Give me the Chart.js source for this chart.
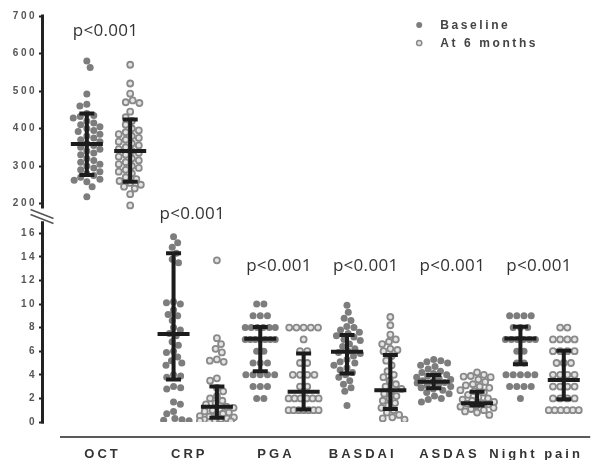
<!DOCTYPE html>
<html>
<head>
<meta charset="utf-8">
<title>Disease activity at baseline and at 6 months</title>
<style>
  html, body { margin: 0; padding: 0; background: #fff; }
  #wrap { width: 604px; height: 460px; }
</style>
</head>
<body>
<div id="wrap"><canvas id="dotChart" width="604" height="460"></canvas></div>
<script src="https://cdn.jsdelivr.net/npm/chart.js@4.4.1/dist/chart.umd.min.js"></script>
<script>
// categories along the x axis
const categories = ["OCT", "CRP", "PGA", "BASDAI", "ASDAS", "Night pain"];
const pLabels = ["p<0.001", "p<0.001", "p<0.001", "p<0.001", "p<0.001", "p<0.001"];
const pLabelLevel = [662, 17.7, 13.3, 13.3, 13.3, 13.3]; // OCT uses the top axis

// tick labels of the two axis pieces
const octTicks = [200, 300, 400, 500, 600, 700];
const scoreTicks = [0, 2, 4, 6, 8, 10, 12, 14, 16];

// individual values
const octBaseline = [580, 563, 492, 465, 460, 440, 435, 432, 428, 420, 415, 410, 405, 400, 395, 392, 385, 380, 375, 370, 365, 360, 355, 350, 345, 340, 335, 330, 320, 315, 310, 305, 300, 295, 290, 285, 280, 275, 270, 265, 262, 258, 245, 218];
const oct6m = [570, 520, 493, 475, 470, 468, 445, 430, 420, 410, 400, 395, 390, 385, 380, 375, 370, 365, 360, 355, 350, 345, 340, 335, 330, 325, 320, 315, 310, 305, 300, 295, 290, 285, 280, 270, 265, 260, 255, 250, 245, 240, 225, 195];
const crpBaseline = [15.7, 15.2, 14.8, 14.3, 13.8, 13.5, 10.2, 10.0, 10.1, 9.5, 9.1, 9.0, 8.6, 8.0, 7.8, 7.5, 7.3, 6.8, 6.5, 6.0, 5.9, 5.5, 5.2, 5.0, 4.8, 4.0, 3.9, 3.8, 3.0, 2.9, 2.8, 1.7, 1.5, 0.9, 0.7, 0.3, 0.2, 0.15, 0.1];
const crp6m = [13.7, 7.1, 6.6, 6.2, 5.9, 5.3, 5.2, 5.1, 3.7, 3.5, 2.9, 2.6, 2.2, 2.0, 1.8, 1.6, 1.5, 1.3, 1.2, 1.1, 1.0, 0.9, 0.8, 0.7, 0.6, 0.5, 0.45, 0.4, 0.3, 0.25, 0.2, 0.15, 0.1, 0.05, 0.0];
const pgaBaseline = [10, 10, 9, 9, 9, 8, 8, 8, 8, 8, 8, 7, 7, 7, 7, 7, 7, 7, 6, 6, 5, 5, 5, 4, 4, 4, 4, 4, 3, 3, 3, 2, 2];
const pga6m = [8, 8, 8, 8, 8, 7, 6, 6, 5, 5, 4, 4, 4, 4, 3, 3, 2, 2, 2, 2, 2, 2, 1, 1, 1, 1, 1, 1, 1];
const basdaiBaseline = [9.9, 9.3, 8.8, 8.6, 8.1, 8.0, 7.8, 7.6, 7.5, 7.3, 7.2, 7.0, 6.9, 6.6, 6.4, 6.2, 6.0, 5.9, 5.8, 5.6, 5.3, 5.1, 5.0, 4.8, 4.6, 4.4, 4.2, 4.0, 3.8, 3.5, 3.2, 2.9, 2.6, 1.4];
const basdai6m = [8.9, 8.2, 7.4, 7.0, 6.8, 6.6, 6.2, 6.1, 6.0, 5.6, 5.2, 4.8, 4.3, 4.0, 3.8, 3.5, 3.2, 3.0, 2.8, 2.6, 2.4, 2.2, 2.0, 1.8, 1.6, 1.4, 1.2, 1.0, 0.8, 0.6, 0.4, 0.3, 0.2];
const asdasBaseline = [5.3, 5.2, 5.1, 5.0, 4.8, 4.7, 4.5, 4.3, 4.2, 4.1, 4.0, 3.9, 3.8, 3.7, 3.6, 3.5, 3.4, 3.35, 3.3, 3.2, 3.1, 3.0, 2.9, 2.8, 2.7, 2.5, 2.4, 2.2, 2.0, 1.9, 1.7];
const asdas6m = [4.2, 4.0, 3.9, 3.85, 3.8, 3.6, 3.4, 3.2, 3.1, 3.0, 2.9, 2.7, 2.6, 2.5, 2.3, 2.1, 2.0, 1.9, 1.8, 1.7, 1.6, 1.55, 1.5, 1.4, 1.3, 1.2, 1.1, 1.0, 0.9, 0.8, 0.6];
const nightBaseline = [9, 9, 9, 9, 8, 8, 8, 7, 7, 7, 7, 7, 7, 6, 6, 5, 5, 4, 4, 4, 4, 4, 3, 3, 3, 3, 2];
const night6m = [8, 8, 7, 7, 7, 7, 6, 6, 6, 6, 5, 5, 5, 4, 4, 4, 4, 3, 3, 3, 3, 2, 2, 2, 2, 1, 1, 1, 1, 1, 1];

// centre line and error bar ends (per category)
const baselineMid = [359, 7.45, 7.05, 5.95, 3.41, 7.08];
const baselineLow = [276, 3.6, 4.3, 4.12, 2.85, 4.9];
const baselineHigh = [440, 14.3, 8.05, 7.37, 3.98, 8.07];
const followMid = [340, 1.3, 2.57, 2.7, 1.58, 3.55];
const followLow = [258, 0.37, 1.05, 1.1, 1.4, 1.92];
const followHigh = [424, 3.0, 5.8, 5.67, 2.57, 6.04];

const baselineGroups = [octBaseline, crpBaseline, pgaBaseline, basdaiBaseline, asdasBaseline, nightBaseline];
const followGroups = [oct6m, crp6m, pga6m, basdai6m, asdas6m, night6m];

const SHIFT = 0.25;         // half distance between the two columns of a category
const DOT = 7.2;            // dot spacing in px for the swarm
const MAX_ROW = 30;         // widest row of tied values in px
const HALF_WIDTH = 17;      // widest a swarm may spread to each side, px
const BASE_COLOR = "#7d7d7d";
const FOLLOW_EDGE = "#8a8a8a";
const FOLLOW_FILL = "#e4e4e4";
const BAR_COLOR = "#1c1c1c";

function makePoints(groups, shift, cats) {
  const pts = [];
  cats.forEach(c => {
    groups[c].forEach(v => pts.push({ x: c + shift, y: v, cat: c }));
  });
  return pts;
}

// place dots side by side: tied values in centred rows, the rest as a swarm
function swarmOffsets(pys) {
  const out = new Array(pys.length).fill(0);
  const placed = [];
  const ties = new Map();
  pys.forEach((py, i) => {
    const k = py.toFixed(2);
    if (!ties.has(k)) ties.set(k, []);
    ties.get(k).push(i);
  });
  const singles = [];
  ties.forEach(idx => {
    if (idx.length > 1) {
      const step = Math.min(DOT, MAX_ROW / (idx.length - 1));
      idx.forEach((i, j) => {
        out[i] = (j - (idx.length - 1) / 2) * step;
        placed.push({ x: out[i], y: pys[i] });
      });
    } else {
      singles.push(idx[0]);
    }
  });
  let side = 1;
  singles.sort((a, b) => pys[a] - pys[b]).forEach(i => {
    const y = pys[i];
    const near = placed.filter(p => Math.abs(p.y - y) < DOT);
    const cands = [0];
    near.forEach(p => {
      const w = Math.sqrt(DOT * DOT - (p.y - y) * (p.y - y));
      cands.push(p.x + w, p.x - w);
    });
    const ok = cands.filter(c => Math.abs(c) <= HALF_WIDTH &&
      near.every(p => (p.x - c) ** 2 + (p.y - y) ** 2 >= DOT * DOT - 0.01));
    let x;
    if (ok.length) {
      ok.sort((a, b) => {
        const d = Math.abs(a) - Math.abs(b);
        if (Math.abs(d) > 0.01) return d;
        return (Math.sign(b) === side) - (Math.sign(a) === side);
      });
      x = ok[0];
    } else {
      // crowded: take the spot inside the band that is furthest from its neighbours
      let best = -1;
      for (let c = -HALF_WIDTH; c <= HALF_WIDTH; c += 0.5) {
        const gap = Math.min(...near.map(p => Math.hypot(p.x - c, p.y - y)));
        if (gap > best + 0.01 || (Math.abs(gap - best) <= 0.01 && Math.abs(c) < Math.abs(x))) {
          best = gap; x = c;
        }
      }
    }
    if (x !== 0) side = -Math.sign(x);
    out[i] = x;
    placed.push({ x, y });
  });
  return out;
}

// error bars: vertical line, caps, and a wider centre line
const errorBars = {
  id: "errorBars",
  afterDatasetsDraw(chart) {
    const { ctx } = chart;
    const xs = chart.scales.x;
    ctx.save();
    ctx.strokeStyle = BAR_COLOR;
    ctx.lineWidth = 4;
    ctx.lineCap = "butt";
    categories.forEach((c, i) => {
      const ys = i === 0 ? chart.scales.yTop : chart.scales.y;
      [[-SHIFT, baselineMid, baselineLow, baselineHigh], [SHIFT, followMid, followLow, followHigh]].forEach(([s, mid, lo, hi]) => {
        const cx = xs.getPixelForValue(i + s);
        const pm = ys.getPixelForValue(mid[i]);
        const pl = ys.getPixelForValue(lo[i]);
        const ph = ys.getPixelForValue(hi[i]);
        ctx.beginPath();
        ctx.moveTo(cx, ph); ctx.lineTo(cx, pl);
        ctx.moveTo(cx - 7.5, ph); ctx.lineTo(cx + 7.5, ph);
        ctx.moveTo(cx - 7.5, pl); ctx.lineTo(cx + 7.5, pl);
        ctx.moveTo(cx - 16, pm); ctx.lineTo(cx + 16, pm);
        ctx.stroke();
      });
    });
    ctx.restore();
  }
};

// axis lines with the break, x axis line, category names, p values, legend
const decorations = {
  id: "decorations",
  beforeDraw(chart) {
    chart.ctx.letterSpacing = "2.5px";
  },
  afterDraw(chart) {
    const { ctx, chartArea } = chart;
    const xs = chart.scales.x, yt = chart.scales.yTop, yb = chart.scales.y;
    const ax = chartArea.left - 1.5;
    ctx.save();
    ctx.letterSpacing = "0px";
    ctx.strokeStyle = "#222";
    ctx.lineWidth = 3;
    ctx.beginPath();
    ctx.moveTo(ax, yt.getPixelForValue(octTicks[octTicks.length - 1]) - 1.5);
    ctx.lineTo(ax, yt.getPixelForValue(octTicks[0]) + 5);
    ctx.moveTo(ax, yb.getPixelForValue(scoreTicks[scoreTicks.length - 1]) - 12);
    ctx.lineTo(ax, yb.getPixelForValue(0) + 1.5);
    ctx.stroke();
    // break marks
    const by = yt.getPixelForValue(octTicks[0]) + 6;
    ctx.lineWidth = 1.5;
    ctx.strokeStyle = "#555";
    ctx.beginPath();
    ctx.moveTo(ax - 12, by); ctx.lineTo(ax + 11, by + 9);
    ctx.moveTo(ax - 12, by + 5); ctx.lineTo(ax + 11, by + 14);
    ctx.stroke();

    // x axis line
    const xl = chartArea.bottom + 15;
    ctx.strokeStyle = "#5a5a5a";
    ctx.lineWidth = 2;
    ctx.beginPath();
    ctx.moveTo(chartArea.left + 16, xl);
    ctx.lineTo(chartArea.right - 8, xl);
    ctx.stroke();

    // category names
    ctx.fillStyle = "#333";
    ctx.font = "bold 13px Arial, 'Liberation Sans', sans-serif";
    ctx.letterSpacing = "3px";
    ctx.textAlign = "center";
    ctx.textBaseline = "middle";
    categories.forEach((c, i) => {
      ctx.fillText(c, xs.getPixelForValue(i) - 6, xl + 17);
    });

    // p values
    ctx.font = "17px 'Open Sans', 'Noto Sans', sans-serif";
    ctx.letterSpacing = "0.3px";
    ctx.fillStyle = "#333";
    pLabels.forEach((t, i) => {
      const ys = i === 0 ? yt : yb;
      ctx.fillText(t, xs.getPixelForValue(i) - 3, ys.getPixelForValue(pLabelLevel[i]) + 1);
    });

    // legend
    const lx = chartArea.right - 179;
    const ly = chartArea.top + 9;
    ctx.fillStyle = BASE_COLOR;
    ctx.beginPath();
    ctx.arc(lx, ly, 3, 0, Math.PI * 2);
    ctx.fill();
    ctx.fillStyle = FOLLOW_FILL;
    ctx.strokeStyle = FOLLOW_EDGE;
    ctx.lineWidth = 1.5;
    ctx.beginPath();
    ctx.arc(lx, ly + 18, 2.6, 0, Math.PI * 2);
    ctx.fill();
    ctx.stroke();
    ctx.fillStyle = "#444";
    ctx.font = "bold 12px Arial, 'Liberation Sans', sans-serif";
    ctx.letterSpacing = "2.6px";
    ctx.textAlign = "left";
    ctx.fillText("Baseline", lx + 21, ly + 1);
    ctx.fillText("At 6 months", lx + 21, ly + 19);
    ctx.restore();
  }
};

const tickFont = { family: "Arial, 'Liberation Sans', sans-serif", size: 10, weight: "bold" };
const axisGrid = { display: true, drawOnChartArea: false, drawTicks: true, tickLength: 5, tickWidth: 2, tickColor: "#222" };

const ctx = document.getElementById("dotChart").getContext("2d");
const chart = new Chart(ctx, {
  type: "scatter",
  data: {
    datasets: [
      {
        label: "Baseline", yAxisID: "yTop",
        data: makePoints(baselineGroups, -SHIFT, [0]),
        pointRadius: 3.5, pointBackgroundColor: BASE_COLOR, pointBorderWidth: 0
      },
      {
        label: "At 6 months", yAxisID: "yTop",
        data: makePoints(followGroups, SHIFT, [0]),
        pointRadius: 3, pointBackgroundColor: FOLLOW_FILL, pointBorderColor: FOLLOW_EDGE, pointBorderWidth: 1.8
      },
      {
        label: "Baseline", yAxisID: "y",
        data: makePoints(baselineGroups, -SHIFT, [1, 2, 3, 4, 5]),
        pointRadius: 3.5, pointBackgroundColor: BASE_COLOR, pointBorderWidth: 0
      },
      {
        label: "At 6 months", yAxisID: "y",
        data: makePoints(followGroups, SHIFT, [1, 2, 3, 4, 5]),
        pointRadius: 3, pointBackgroundColor: FOLLOW_FILL, pointBorderColor: FOLLOW_EDGE, pointBorderWidth: 1.8
      }
    ]
  },
  options: {
    responsive: false,
    animation: false,
    layout: { padding: { top: 16, right: 4, bottom: 38, left: 0 } },
    plugins: { legend: { display: false }, tooltip: { enabled: false } },
    scales: {
      x: { type: "linear", display: false, min: -0.744, max: 5.647 },
      y: {
        type: "linear", position: "left", stack: "left", stackWeight: 206,
        min: 0, max: 206 / 11.8,
        afterBuildTicks: s => { s.ticks = scoreTicks.map(v => ({ value: v })); },
        afterFit: s => { s.width = 44; },
        border: { display: false },
        grid: axisGrid,
        ticks: { font: tickFont, color: "#555", padding: 2, autoSkip: false }
      },
      yTop: {
        type: "linear", position: "left", stack: "left", stackWeight: 200,
        min: 700 - 200 / 0.375, max: 700,
        afterBuildTicks: s => { s.ticks = octTicks.map(v => ({ value: v })); },
        afterFit: s => { s.width = 44; },
        border: { display: false },
        grid: axisGrid,
        ticks: { font: tickFont, color: "#555", padding: 2, autoSkip: false }
      }
    }
  },
  plugins: [errorBars, decorations]
});

// spread each column of dots sideways through the scales, then redraw
chart.data.datasets.forEach(ds => {
  const ys = chart.scales[ds.yAxisID];
  const xs = chart.scales.x;
  const cats = [...new Set(ds.data.map(p => p.cat))];
  cats.forEach(c => {
    const pts = ds.data.filter(p => p.cat === c);
    const offs = swarmOffsets(pts.map(p => ys.getPixelForValue(p.y)));
    pts.forEach((p, k) => {
      const cx = xs.getPixelForValue(p.x);
      p.x = xs.getValueForPixel(cx + offs[k]);
    });
  });
});
chart.update("none");
</script>
</body>
</html>
